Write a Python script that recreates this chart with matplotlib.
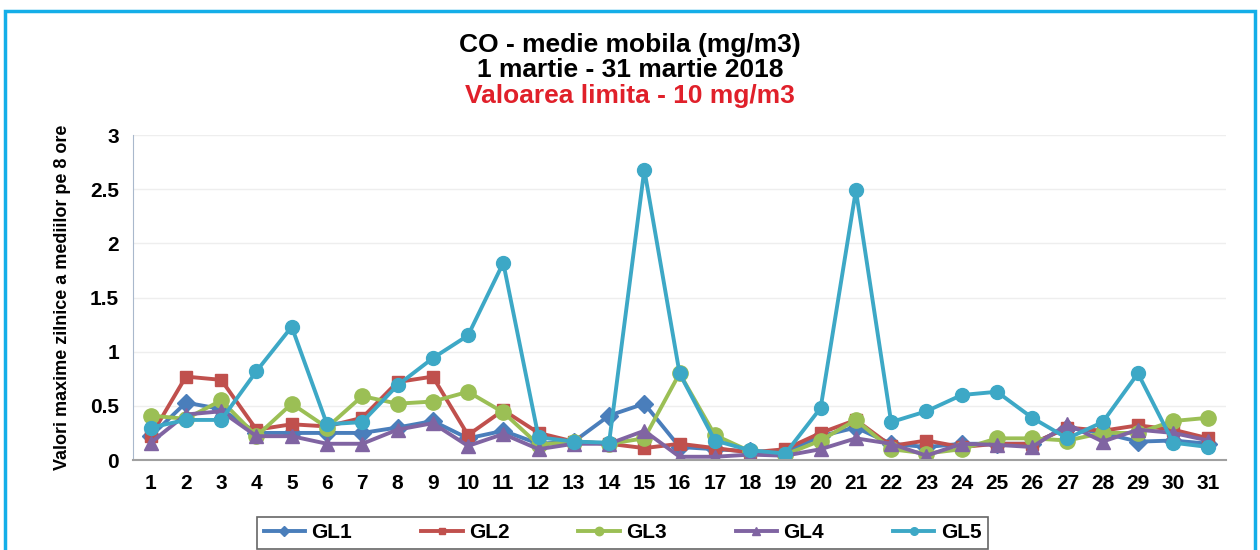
import matplotlib
matplotlib.use("Agg")
import matplotlib.pyplot as plt
from matplotlib.patches import Rectangle

days = list(range(1, 32))
gl1 = [0.22, 0.53, 0.47, 0.25, 0.25, 0.25, 0.25, 0.30, 0.36, 0.20, 0.27, 0.15, 0.17, 0.41, 0.52, 0.12,
       0.10, 0.08, 0.07, 0.22, 0.30, 0.15, 0.12, 0.15, 0.15, 0.15, 0.30, 0.25, 0.17, 0.18, 0.15]
gl2 = [0.22, 0.77, 0.74, 0.28, 0.33, 0.31, 0.39, 0.72, 0.77, 0.23, 0.46, 0.25, 0.17, 0.15, 0.11, 0.15,
       0.11, 0.07, 0.10, 0.25, 0.37, 0.13, 0.18, 0.12, 0.15, 0.15, 0.30, 0.27, 0.32, 0.28, 0.20]
gl3 = [0.41, 0.38, 0.55, 0.22, 0.52, 0.30, 0.59, 0.52, 0.54, 0.63, 0.44, 0.14, 0.17, 0.15, 0.20, 0.80,
       0.23, 0.08, 0.05, 0.18, 0.37, 0.10, 0.06, 0.10, 0.20, 0.20, 0.18, 0.25, 0.25, 0.36, 0.39]
gl4 = [0.16, 0.42, 0.45, 0.22, 0.22, 0.15, 0.15, 0.28, 0.34, 0.13, 0.24, 0.10, 0.15, 0.15, 0.27, 0.03,
       0.03, 0.05, 0.04, 0.10, 0.20, 0.15, 0.04, 0.15, 0.14, 0.12, 0.33, 0.17, 0.28, 0.25, 0.18]
gl5 = [0.30, 0.37, 0.37, 0.82, 1.23, 0.33, 0.35, 0.69, 0.94, 1.15, 1.82, 0.21, 0.17, 0.16, 2.68, 0.80,
       0.18, 0.09, 0.06, 0.48, 2.49, 0.35, 0.45, 0.60, 0.63, 0.39, 0.20, 0.35, 0.80, 0.16, 0.12]

series = [
    ("GL1", gl1, "#4A7EBB", "D", 9),
    ("GL2", gl2, "#C0504D", "s", 9),
    ("GL3", gl3, "#9BBF55", "o", 11),
    ("GL4", gl4, "#8064A2", "^", 10),
    ("GL5", gl5, "#3DA8C6", "o", 10),
]

plt.rcParams["font.family"] = ["Liberation Sans", "DejaVu Sans"]

fig = plt.figure(figsize=(12.6, 5.5), dpi=100)
fig.patches.append(Rectangle((0.004, -0.02), 0.992, 1.0, transform=fig.transFigure,
                             fill=False, edgecolor="#14AEE8", lw=2.5))
ax = fig.add_axes([0.1056, 0.1636, 0.8675, 0.5909])

for name, vals, col, mk, ms in series:
    ax.plot(days, vals, color=col, lw=2.8, marker=mk, markersize=ms,
            markerfacecolor=col, markeredgecolor=col, label=name)

ax.set_xlim(0.5, 31.5)
ax.set_ylim(0, 3)
ax.set_xticks(days)
ax.set_xticklabels([str(d) for d in days])
ax.set_yticks([0, 0.5, 1, 1.5, 2, 2.5, 3])
ax.set_yticklabels(["0", "0.5", "1", "1.5", "2", "2.5", "3"])
ax.tick_params(axis="both", length=0, labelsize=15, pad=10)
for lab in ax.get_xticklabels() + ax.get_yticklabels():
    lab.set_fontweight("bold")
ax.grid(axis="y", color="#EEEEEE", lw=1)
ax.set_axisbelow(True)
for s in ("top", "right"):
    ax.spines[s].set_visible(False)
ax.spines["left"].set_color("#A9B8CC")
ax.spines["bottom"].set_color("#A0A0A0")
ax.spines["bottom"].set_linewidth(1.5)

ax.set_ylabel("Valori maxime zilnice a mediilor pe 8 ore", fontsize=13, fontweight="bold",
              labelpad=14)

fig.text(0.5, 0.918, "CO - medie mobila (mg/m3)", ha="center", va="center",
         fontsize=19, fontweight="bold")
fig.text(0.5, 0.872, "1 martie - 31 martie 2018", ha="center", va="center",
         fontsize=19, fontweight="bold")
fig.text(0.5, 0.825, "Valoarea limita - 10 mg/m3", ha="center", va="center",
         fontsize=19, fontweight="bold", color="#E0202A")

leg = fig.legend(loc="center", bbox_to_anchor=(0.494, 0.031), ncol=5, frameon=True,
                 fancybox=False, edgecolor="#404040", fontsize=15, handlelength=2,
                 handletextpad=0.3, columnspacing=3.3, borderpad=0.3, markerscale=0.55)
for t in leg.get_texts():
    t.set_fontweight("bold")
leg.get_frame().set_linewidth(1.2)

fig.savefig("out.png", dpi=100)
